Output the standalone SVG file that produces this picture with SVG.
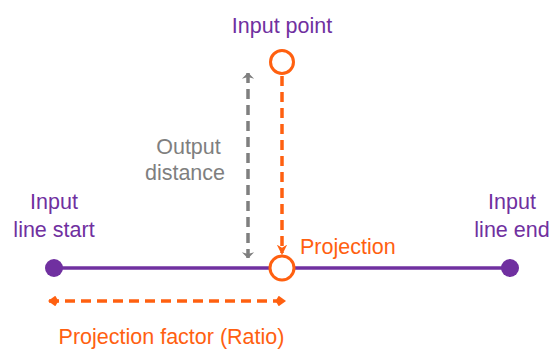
<svg xmlns="http://www.w3.org/2000/svg" width="550" height="351" viewBox="0 0 550 351">
<style>
text{font-family:"Liberation Sans",Arial,sans-serif;font-size:21.5px}
.p{fill:#7030A0}.o{fill:#FF6010}.g{fill:#7F7F7F}
.d{stroke-width:3.5;stroke-dasharray:10,6;fill:none}
</style>
<defs>
<marker id="ao" viewBox="0 0 10 10" refX="8" refY="5" markerWidth="3" markerHeight="3" orient="auto-start-reverse" markerUnits="strokeWidth"><path d="M0,0L10,5L0,10L3,5Z" fill="#FF6010"/></marker>
<marker id="ak" viewBox="0 0 10 10" refX="9" refY="5" markerWidth="3" markerHeight="3" orient="auto-start-reverse" markerUnits="strokeWidth"><path d="M3,0L10,5L3,10L0,5Z" fill="#FF6010"/></marker>
<marker id="ag" viewBox="0 0 8 16" refX="7.5" refY="8" markerWidth="2" markerHeight="4" orient="auto-start-reverse" markerUnits="strokeWidth"><path d="M1,1L8,8L1,15L3,8Z" fill="#7F7F7F"/></marker>
</defs>
<g id="connectors">
<line x1="54" y1="268" x2="510" y2="268" stroke="#7030A0" stroke-width="3.5"/>
<line class="d" x1="282" y1="76" x2="282" y2="253" stroke="#FF6010" marker-end="url(#ao)"/>
<line class="d" x1="248" y1="73" x2="248" y2="258" stroke="#7F7F7F" marker-start="url(#ag)" marker-end="url(#ag)"/>
<line class="d" x1="49" y1="301" x2="285" y2="301" stroke="#FF6010" marker-start="url(#ak)" marker-end="url(#ak)"/>
</g>
<g id="start"><circle cx="54" cy="268" r="9" fill="#7030A0"/><text class="p" x="54" y="209" text-anchor="middle">Input</text><text class="p" x="54" y="237" text-anchor="middle">line start</text></g>
<g id="end"><circle cx="510" cy="268" r="9" fill="#7030A0"/><text class="p" x="512" y="209" text-anchor="middle">Input</text><text class="p" x="512" y="237" text-anchor="middle">line end</text></g>
<g id="inputpoint"><circle cx="282" cy="62" r="11.5" fill="#fff" stroke="#FF6010" stroke-width="3"/><text class="p" x="282" y="33" text-anchor="middle">Input point</text></g>
<g id="projection"><circle cx="282" cy="268" r="12" fill="#fff" stroke="#FF6010" stroke-width="3"/><text class="o" x="300" y="254">Projection</text></g>
<g id="distance"><text class="g" x="188.5" y="154" text-anchor="middle">Output</text><text class="g" x="185" y="180" text-anchor="middle">distance</text></g>
<g id="ratio"><text class="o" x="171.5" y="344" text-anchor="middle">Projection factor (Ratio)</text></g>
</svg>
